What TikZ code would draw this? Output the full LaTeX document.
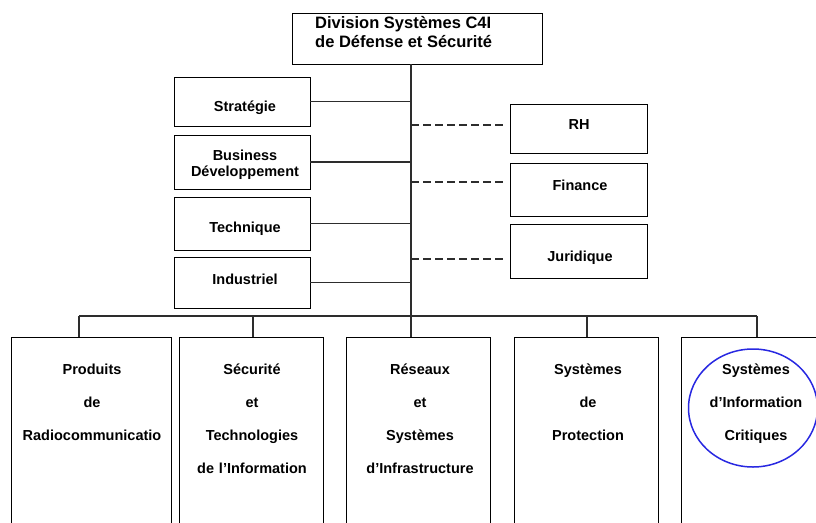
\documentclass[tikz,border=0pt]{standalone}
\usepackage{fontspec}
\setmainfont{Liberation Sans}
\usetikzlibrary{shapes.geometric}
\definecolor{ringblue}{RGB}{40,40,225}
\definecolor{linkgray}{RGB}{45,45,45}
\begin{document}
\begin{tikzpicture}[x=1pt,y=-1pt,
  box/.style={draw=black,line width=0.9pt,inner sep=0pt,fill=none},
  link/.style={draw=linkgray,line width=1.05pt},
  dashlink/.style={link,line width=1.2pt,dash pattern=on 8pt off 4pt},
  titletxt/.style={font=\bfseries\fontsize{16.5}{19}\selectfont,inner sep=0pt},
  lbl/.style={font=\bfseries\fontsize{14.5}{16}\selectfont,inner sep=0pt,anchor=base,align=center},
  unit/.style={font=\bfseries\fontsize{14.5}{33}\selectfont,inner sep=0pt,anchor=base,align=center,text width=150pt}]
\useasboundingbox (0,0) rectangle (816,522);
\clip (0,0) rectangle (816,522);

% head of the division
\node[box,minimum width=250,minimum height=51] (top) at (417,38.5) {};
\node[titletxt,anchor=base west] (title1) at (315,28) {Division Systèmes C4I};
\node[titletxt,anchor=base west] (title2) at (315,47) {de Défense et Sécurité};

% staff functions on the left
\node[box,minimum width=136,minimum height=49] (strat) at (242,101.5) {};
\node[box,minimum width=136,minimum height=54] (busi)  at (242,162) {};
\node[box,minimum width=136,minimum height=53] (tech)  at (242,223.5) {};
\node[box,minimum width=136,minimum height=51] (indu)  at (242,282.5) {};
\node[lbl] (strat-t) at (245,111) {Stratégie};
\node[lbl,text width=140pt] (busi-t) at (245,160) {Business\\Développement};
\node[lbl] (tech-t) at (245,232) {Technique};
\node[lbl] (indu-t) at (245,284) {Industriel};

% support functions on the right
\node[box,minimum width=137,minimum height=49] (rh)  at (578.5,128.5) {};
\node[box,minimum width=137,minimum height=53] (fin) at (578.5,189.5) {};
\node[box,minimum width=137,minimum height=54] (jur) at (578.5,251) {};
\node[lbl] (rh-t)  at (579,129) {RH};
\node[lbl] (fin-t) at (580,190) {Finance};
\node[lbl] (jur-t) at (580,261) {Juridique};

% business units
\node[box,minimum width=160,minimum height=223] (u1) at (91,448.5) {};
\node[box,minimum width=144,minimum height=223] (u2) at (251,448.5) {};
\node[box,minimum width=144,minimum height=223] (u3) at (418,448.5) {};
\node[box,minimum width=144,minimum height=223] (u4) at (586,448.5) {};
\node[box,minimum width=144,minimum height=223] (u5) at (753,448.5) {};
\node[draw=ringblue,line width=1.5pt,ellipse,inner sep=0pt,minimum width=129,minimum height=118] (ring) at (753,408) {};
\node[unit] (u1-t) at (92,374) {Produits\\de\\Radiocommunicatio};
\node[unit] (u2-t) at (252,374) {Sécurité\\et\\Technologies\\de l’Information};
\node[unit] (u3-t) at (420,374) {Réseaux\\et\\Systèmes\\d’Infrastructure};
\node[unit] (u4-t) at (588,374) {Systèmes\\de\\Protection};
\node[unit] (u5-t) at (756,374) {Systèmes\\d’Information\\Critiques};

% trunk and bus
\coordinate (k1) at (79,316);
\coordinate (k2) at (253,316);
\coordinate (k3) at (411,316);
\coordinate (k4) at (587,316);
\coordinate (k5) at (757,316);
\draw[link] (top.south -| k3) -- (k3 |- u3.north);
\draw[link] (k1) -- (k5);
\draw[link] (k1) -- (k1 |- u1.north);
\draw[link] (k2) -- (k2 |- u2.north);
\draw[link] (k4) -- (k4 |- u4.north);
\draw[link] (k5) -- (k5 |- u5.north);

% staff links
\draw[link] (strat.east) -- (strat.east -| k3);
\draw[link] (busi.east) -- (busi.east -| k3);
\draw[link] (tech.east) -- (tech.east -| k3);
\draw[link] (indu.east) -- (indu.east -| k3);

% dashed support links
\coordinate (d1) at (503,125);
\coordinate (d2) at (503,182);
\coordinate (d3) at (503,259);
\draw[dashlink] (d1 -| k3) -- (d1);
\draw[dashlink] (d2 -| k3) -- (d2);
\draw[dashlink] (d3 -| k3) -- (d3);
\end{tikzpicture}
\end{document}
